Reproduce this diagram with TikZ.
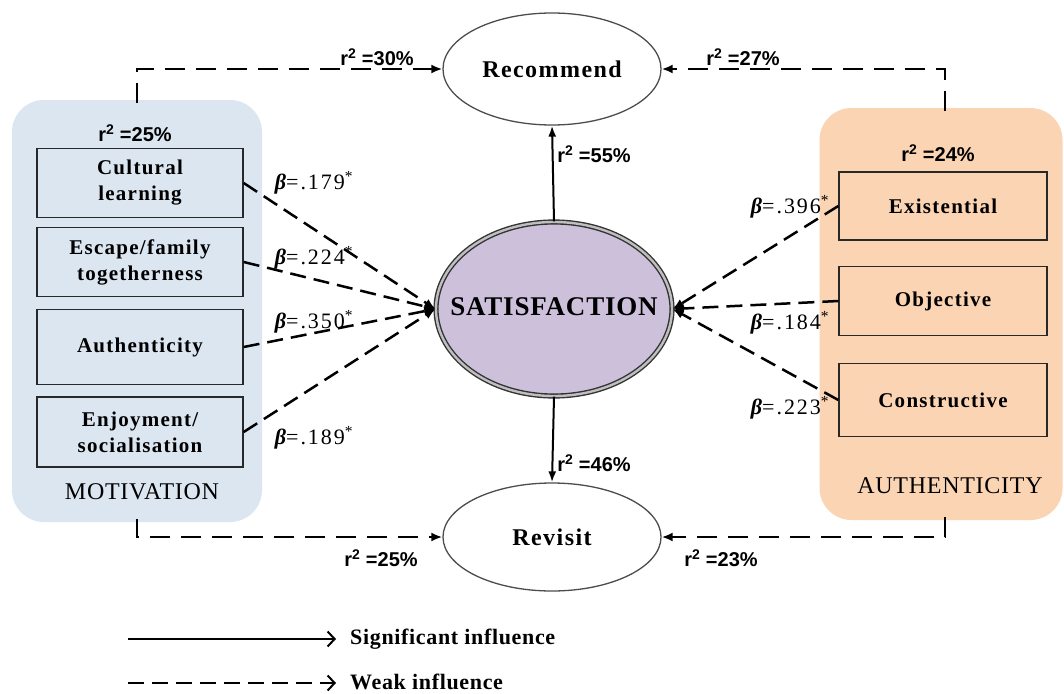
\documentclass[tikz,border=0pt]{standalone}
\usepackage{fontspec}
\setmainfont{Liberation Serif}
\newfontfamily\lblfont{Liberation Sans}
\newfontfamily\spfont[LetterSpace=6]{Liberation Serif}
\newfontfamily\bfont[LetterSpace=9]{Liberation Serif}
\newfontfamily\capfont[LetterSpace=3]{Liberation Serif}
\usetikzlibrary{arrows.meta,shapes.geometric}

\definecolor{motfill}{RGB}{220,230,241}
\definecolor{authfill}{RGB}{251,212,180}
\definecolor{satfill}{RGB}{204,192,218}
\definecolor{inkgray}{RGB}{40,40,40}

\newcommand{\rsq}[1]{{\lblfont\bfseries r\textsuperscript{2} =#1\%}}
\newcommand{\bval}[1]{{\itshape\bfseries β}=.#1\textsuperscript{*}}

\begin{document}
\begin{tikzpicture}[x=1pt,y=-1pt,
  panel/.style={rounded corners=32pt, inner sep=0pt},
  factor/.style={draw=inkgray, line width=1.4pt, minimum width=206pt, minimum height=69pt,
    align=center, font=\spfont\bfseries\fontsize{21}{26}\selectfont, inner sep=2pt},
  outcome/.style={ellipse, draw=black!70, line width=1.3pt, fill=white,
    minimum width=218pt, minimum height=112pt, font=\spfont\bfseries\fontsize{24}{26}\selectfont},
  weak/.style={dash pattern=on 16pt off 8pt, line width=2.5pt, -{Latex[length=11pt,width=9pt]}},
  weakline/.style={dash pattern=on 20pt off 11pt, line width=2.7pt, -{Latex[length=11pt,width=9pt]}},
  strong/.style={line width=2pt, -{Latex[length=11pt,width=8pt]}},
  rlabel/.style={font=\fontsize{20}{22}\selectfont, inner sep=0pt},
  blabel/.style={font=\bfont\fontsize{22}{24}\selectfont, inner sep=0pt},
  grouplabel/.style={font=\capfont\fontsize{24}{26}\selectfont, inner sep=0pt},
  legendtext/.style={font=\capfont\bfseries\fontsize{22}{24}\selectfont, anchor=west, inner sep=0pt}
]
\useasboundingbox (0,0) rectangle (1064,693);
\fill[white] (0,0) rectangle (1064,693);

% group panels
\node[panel, fill=motfill, minimum width=250pt, minimum height=422pt] (mot) at (137,311) {};
\node[panel, fill=authfill, minimum width=243pt, minimum height=412pt] (auth) at (941,314) {};

% motivation factors
\node[factor] (cl) at (140,183) {Cultural\\learning};
\node[factor] (ef) at (140,262) {Escape/family\\togetherness};
\node[factor, minimum height=75pt] (au) at (140,347) {Authenticity};
\node[factor, minimum height=70pt] (es) at (140,432) {Enjoyment/\\socialisation};

% authenticity factors
\node[factor, minimum width=208pt, minimum height=68pt] (ex) at (943,206) {Existential};
\node[factor, minimum width=208pt, minimum height=69pt] (ob) at (943,301) {Objective};
\node[factor, minimum width=208pt, minimum height=73pt] (co) at (943,400) {Constructive};

\node[rlabel] (mr) at (135,133) {\rsq{25}};
\node[grouplabel] (mname) at (142,492) {MOTIVATION};
\node[rlabel] (ar) at (938,153) {\rsq{24}};
\node[grouplabel] (aname) at (950,486) {AUTHENTICITY};

% constructs
\node[outcome] (rec) at (552,69) {Recommend};
\node[outcome, minimum height=108pt] (rev) at (552,537) {Revisit};
\node[ellipse, fill=satfill, draw=black!80, line width=1.4pt, double=gray!50, double distance=2.4pt,
  minimum width=236pt, minimum height=174pt, inner sep=0pt] (sat) at (554,309) {};
\node[font=\capfont\bfseries\fontsize{27}{30}\selectfont, inner sep=0pt] (sattext) at (554,307) {SATISFACTION};

% paths into satisfaction
\foreach \f in {cl,ef,au,es}{
  \draw[weak] (\f.east) -- (sat.west);
}
\foreach \f in {ex,ob,co}{
  \draw[weak] (\f.west) -- (sat.east);
}

% satisfaction to outcomes
\draw[strong] (sat.north) -- (rec.south);
\draw[strong] (sat.south) -- (rev.north);

% direct paths from the groups
\draw[weakline] ([yshift=-3pt]mot.north) |- (rec.west);
\draw[weakline] ([xshift=4pt,yshift=-3pt]auth.north) |- (rec.east);
\draw[weakline] ([yshift=3pt]mot.south) |- (rev.west);
\draw[weakline] ([xshift=4pt,yshift=3pt]auth.south) |- (rev.east);

% path coefficients
\node[blabel] (b1) at (314,183) {\bval{179}};
\node[blabel] (b2) at (314,258) {\bval{224}};
\node[blabel] (b3) at (314,322) {\bval{350}};
\node[blabel] (b4) at (314,438) {\bval{189}};
\node[blabel] (b5) at (790,207) {\bval{396}};
\node[blabel] (b6) at (790,323) {\bval{184}};
\node[blabel] (b7) at (790,408) {\bval{223}};

% explained variance
\node[rlabel] (r1) at (377,57) {\rsq{30}};
\node[rlabel] (r2) at (743,57) {\rsq{27}};
\node[rlabel] (r3) at (594,154) {\rsq{55}};
\node[rlabel] (r4) at (594,463) {\rsq{46}};
\node[rlabel] (r5) at (381,558) {\rsq{25}};
\node[rlabel] (r6) at (721,558) {\rsq{23}};

% legend
\coordinate (sa) at (128,639);
\coordinate (sb) at (336,639);
\coordinate (wa) at (128,683);
\coordinate (wb) at (336,683);
\draw[line width=2pt, -{Straight Barb[length=7pt,width=15pt,line width=2pt]}] (sa) -- (sb);
\draw[line width=2pt, dash pattern=on 16pt off 8pt, -{Straight Barb[length=7pt,width=15pt,line width=2pt]}] (wa) -- (wb);
\node[legendtext] (ls) at (350,639) {Significant influence};
\node[legendtext] (lw) at (350,682) {Weak influence};
\end{tikzpicture}
\end{document}
